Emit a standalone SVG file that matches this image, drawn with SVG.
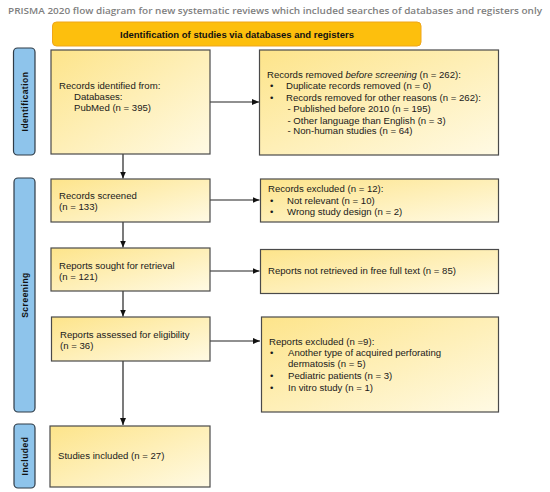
<svg xmlns="http://www.w3.org/2000/svg" width="550" height="492" viewBox="0 0 550 492">
<defs>
<linearGradient id="yg" x1="0" y1="0" x2="1" y2="1">
<stop offset="0" stop-color="#fde48a"/>
<stop offset="1" stop-color="#fffae4"/>
</linearGradient>
<marker id="ah" markerWidth="7" markerHeight="6" refX="7" refY="3" orient="auto" markerUnits="userSpaceOnUse">
<path d="M0,0 L7,3 L0,6 Z" fill="#111"/>
</marker>
</defs>
<style>
.box{fill:url(#yg);stroke:#4a4a4a;stroke-width:1.2}
.side{fill:#8ec4eb;stroke:#2f3b46;stroke-width:1.2}
.t{font-family:"Liberation Sans",Arial,sans-serif;font-size:9.6px;fill:#1a1a1a}
.st{font-family:"Liberation Sans",Arial,sans-serif;font-size:8.5px;font-weight:bold;fill:#111;letter-spacing:0.5px}
.c{stroke:#222;stroke-width:1.2;fill:none;marker-end:url(#ah)}
</style>
<rect width="550" height="492" fill="#ffffff"/>
<text x="275" y="14" text-anchor="middle" font-family="Open Sans, Liberation Sans, sans-serif" font-size="9.7" font-weight="600" fill="#808080" textLength="534" lengthAdjust="spacingAndGlyphs">PRISMA 2020 flow diagram for new systematic reviews which included searches of databases and registers only</text>
<g id="header">
<rect x="52.5" y="22" width="368.5" height="24" rx="4" fill="#fdbf0d" stroke="#efa61a" stroke-width="1"/>
<text x="237" y="37.5" text-anchor="middle" font-family="Liberation Sans, Arial, sans-serif" font-size="9.5" font-weight="bold" fill="#111">Identification of studies via databases and registers</text>
</g>
<g id="side-identification">
<rect class="side" x="13.5" y="48" width="21.5" height="107" rx="4"/>
<text class="st" transform="translate(27.5,101.5) rotate(-90)" text-anchor="middle">Identification</text>
</g>
<g id="side-screening">
<rect class="side" x="14" y="178" width="21" height="234" rx="4"/>
<text class="st" transform="translate(27.5,295) rotate(-90)" text-anchor="middle">Screening</text>
</g>
<g id="side-included">
<rect class="side" x="14" y="424" width="21" height="64" rx="4"/>
<text class="st" transform="translate(27.5,456) rotate(-90)" text-anchor="middle">Included</text>
</g>
<g id="connectors">
<line class="c" x1="210" y1="102" x2="259" y2="102"/>
<line class="c" x1="123" y1="154" x2="123" y2="178.5"/>
<line class="c" x1="210" y1="200" x2="259.5" y2="200"/>
<line class="c" x1="123" y1="222" x2="123" y2="247.5"/>
<line class="c" x1="210" y1="271" x2="259.5" y2="271"/>
<line class="c" x1="123" y1="291" x2="123" y2="316.5"/>
<line class="c" x1="210" y1="341" x2="260" y2="341"/>
<line class="c" x1="123" y1="361" x2="123" y2="425"/>
</g>
<g id="identified">
<rect class="box" x="51" y="50" width="159" height="104"/>
<text class="t" x="59" y="88.5">Records identified from:</text>
<text class="t" x="74" y="99.5">Databases:</text>
<text class="t" x="74" y="110.5">PubMed (n = 395)</text>
</g>
<g id="removed">
<rect class="box" x="259.5" y="50" width="239" height="105"/>
<text class="t" x="267" y="78">Records removed <tspan font-style="italic">before screening</tspan> (n = 262):</text>
<text class="t" x="270" y="89">•</text>
<text class="t" x="286" y="89">Duplicate records removed  (n = 0)</text>
<text class="t" x="270" y="101">•</text>
<text class="t" x="286" y="101">Records removed for other reasons (n = 262):</text>
<text class="t" x="287.5" y="112">- Published before 2010 (n = 195)</text>
<text class="t" x="287.5" y="124">- Other language than English (n = 3)</text>
<text class="t" x="287.5" y="134">- Non-human studies (n = 64)</text>
</g>
<g id="screened">
<rect class="box" x="51" y="179" width="159" height="43"/>
<text class="t" x="59" y="199">Records screened</text>
<text class="t" x="59" y="209.5">(n = 133)</text>
</g>
<g id="excluded">
<rect class="box" x="260.5" y="179" width="238" height="43"/>
<text class="t" x="268" y="192">Records excluded (n = 12):</text>
<text class="t" x="270" y="203.5">•</text>
<text class="t" x="287" y="203.5">Not relevant (n = 10)</text>
<text class="t" x="270" y="215">•</text>
<text class="t" x="287" y="215">Wrong study design (n = 2)</text>
</g>
<g id="sought">
<rect class="box" x="51" y="248" width="159" height="43"/>
<text class="t" x="59" y="268.5">Reports sought for retrieval</text>
<text class="t" x="59" y="279.5">(n = 121)</text>
</g>
<g id="not-retrieved">
<rect class="box" x="260.5" y="249.5" width="238" height="44"/>
<text class="t" x="268" y="274">Reports not retrieved in free full text (n = 85)</text>
</g>
<g id="assessed">
<rect class="box" x="51.5" y="317" width="158.5" height="44"/>
<text class="t" x="60" y="338">Reports assessed for eligibility</text>
<text class="t" x="60" y="348.5">(n = 36)</text>
</g>
<g id="reports-excluded">
<rect class="box" x="261.5" y="317" width="237" height="95"/>
<text class="t" x="269" y="344.5">Reports excluded (n =9):</text>
<text class="t" x="270" y="356">•</text>
<text class="t" x="288" y="356">Another type of acquired perforating</text>
<text class="t" x="288" y="366.5">dermatosis (n = 5)</text>
<text class="t" x="270" y="379">•</text>
<text class="t" x="288" y="379">Pediatric patients (n = 3)</text>
<text class="t" x="270" y="391">•</text>
<text class="t" x="288" y="391">In vitro study (n = 1)</text>
</g>
<g id="included">
<rect class="box" x="50" y="426" width="160" height="61"/>
<text class="t" x="58" y="459">Studies included (n = 27)</text>
</g>
</svg>
